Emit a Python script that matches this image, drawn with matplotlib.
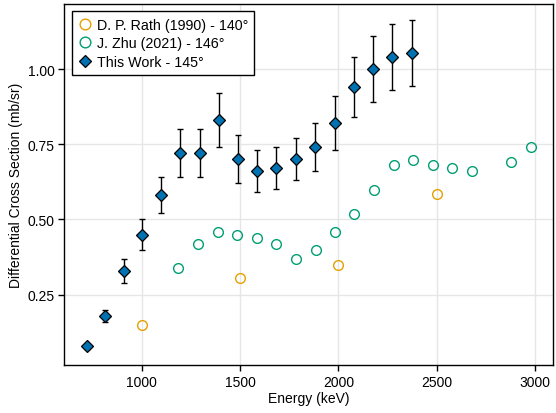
import matplotlib
matplotlib.use("Agg")
import numpy as np
from matplotlib import pyplot as plt

plt.rcParams["font.family"] = ["Liberation Sans", "DejaVu Sans"]
plt.rcParams["font.size"] = 10

# D. P. Rath (1990) - 140 deg
rath_E = [1000, 1500, 2000, 2500]
rath_xs = [0.148, 0.307, 0.348, 0.586]

# J. Zhu (2021) - 146 deg
zhu_E = [1185, 1285, 1387, 1483, 1585, 1683, 1784, 1884, 1982, 2080,
         2181, 2284, 2381, 2481, 2579, 2679, 2878, 2981]
zhu_xs = [0.339, 0.420, 0.459, 0.450, 0.440, 0.420, 0.369, 0.400, 0.460, 0.519,
          0.599, 0.681, 0.699, 0.681, 0.670, 0.660, 0.690, 0.741]

# This work - 145 deg
work_E = [722, 814, 907, 1000, 1099, 1196, 1294, 1390, 1488, 1588,
          1684, 1782, 1881, 1983, 2078, 2177, 2275, 2372]
work_xs = [0.078, 0.178, 0.329, 0.450, 0.580, 0.720, 0.720, 0.831, 0.700, 0.660,
           0.670, 0.700, 0.741, 0.820, 0.941, 1.001, 1.041, 1.052]
work_err = [0.008, 0.02, 0.04, 0.05, 0.06, 0.08, 0.08, 0.09, 0.08, 0.07,
            0.07, 0.07, 0.08, 0.09, 0.10, 0.11, 0.11, 0.11]

orange = "#E69F00"
green = "#009E73"
blue = "#0072B2"

fig = plt.figure(figsize=(5.56, 4.14), dpi=100)
ax = fig.add_axes([64.3 / 556, 48 / 414, (553 - 64.3) / 556, (366 - 5) / 414])

ax.plot(rath_E, rath_xs, "o", ms=7.0, mfc="none", mec=orange, mew=1.0,
        label="D. P. Rath (1990) - 140°", zorder=3)
ax.plot(zhu_E, zhu_xs, "o", ms=7.0, mfc="none", mec=green, mew=1.0,
        label="J. Zhu (2021) - 146°", zorder=3)
ax.errorbar(work_E, work_xs, yerr=work_err, fmt="none", ecolor="black",
            elinewidth=1.0, capsize=2.0, capthick=1.0, zorder=3)
ax.plot(work_E, work_xs, "D", ms=6.0, mfc=blue, mec="black", mew=0.9,
        label="This Work - 145°", zorder=4)

ax.set_xlim(605, 3092)
ax.set_ylim(0.0164, 1.216)
ax.set_xticks([1000, 1500, 2000, 2500, 3000])
ax.set_yticks([0.25, 0.50, 0.75, 1.00])
ax.set_yticklabels(["0.25", "0.50", "0.75", "1.00"])
ax.grid(True, color="#e6e6e6", lw=1.0, zorder=0)
ax.set_axisbelow(True)
ax.tick_params(direction="out", length=4, width=1, color="black", labelsize=10, pad=3)
for s in ax.spines.values():
    s.set_color("black")
    s.set_linewidth(1.0)

ax.set_xlabel("Energy (keV)", fontsize=10, labelpad=2)
ax.set_ylabel("Differential Cross Section (mb/sr)", fontsize=10, labelpad=3)

leg = ax.legend(loc="upper left", bbox_to_anchor=(0.015, 0.98), fontsize=10.3,
                frameon=True, fancybox=False, edgecolor="black", framealpha=1,
                handletextpad=0.3, handlelength=1.0, borderpad=0.45, labelspacing=0.32,
                borderaxespad=0.0, markerscale=1.1)
leg.get_frame().set_linewidth(1.0)

fig.savefig("out.png", dpi=100)
